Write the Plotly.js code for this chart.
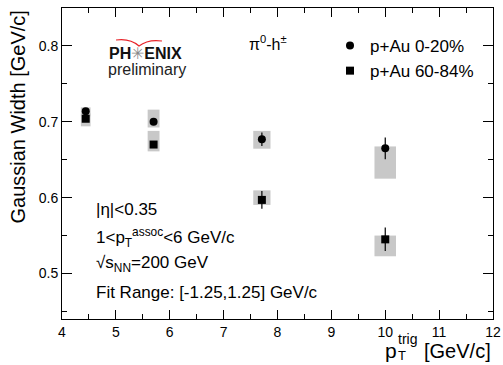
<!DOCTYPE html>
<html>
<head>
<meta charset="utf-8">
<script src="https://cdn.plot.ly/plotly-3.0.1.min.js"></script>
<style>html,body{margin:0;padding:0;background:#fff;}#chart{width:503px;height:365px;}</style>
</head>
<body>
<div id="chart"></div>
<script>
// ---- data ----
const ptTrig = [4.44, 5.70, 7.71, 10.0];
const central = [0.714, 0.700, 0.677, 0.665];          // p+Au 0-20%
const centralStat = [0.003, 0.003, 0.0088, 0.0143];
const centralSysLow = [0.707, 0.6925, 0.6645, 0.625];
const centralSysHigh = [0.719, 0.716, 0.688, 0.6675];
const periph = [0.704, 0.670, 0.597, 0.545];           // p+Au 60-84%
const periphStat = [0.003, 0.003, 0.0116, 0.0155];
const periphSysLow = [0.694, 0.661, 0.5904, 0.5227];
const periphSysHigh = [0.711, 0.688, 0.6096, 0.550];
const seriesNames = ["p+Au 0-20%", "p+Au 60-84%"];
const yTicks = [0.5, 0.6, 0.7, 0.8];
const xTicks = [4, 5, 6, 7, 8, 9, 10, 11, 12];

// ---- style ----
const boxHalfWidth = [0.09, 0.11, 0.16, 0.2];
const FONT = "Liberation Sans, Arial, sans-serif";
const W = 503, H = 365, L = 62, R = 10, T = 8, B = 46;
const PW = W - L - R, PH = H - T - B;
const px = x => (x - L) / PW;
const py = y => (H - B - y) / PH;

function sysTrace(lo, hi) {
  return {
    type: 'bar', x: ptTrig, base: lo, y: hi.map((h, i) => h - lo[i]),
    width: boxHalfWidth.map(w => 2 * w),
    marker: {color: '#c8c8c8', line: {width: 0}},
    showlegend: false, hoverinfo: 'skip'
  };
}
function ptTrace(y, err, name, symbol) {
  return {
    type: 'scatter', mode: 'markers', x: ptTrig, y: y, name: name,
    marker: {symbol: symbol, size: 8, color: '#000'},
    error_y: {type: 'data', array: err, visible: true, color: '#000', thickness: 1.2, width: 0}
  };
}

const data = [
  sysTrace(centralSysLow, centralSysHigh),
  sysTrace(periphSysLow, periphSysHigh),
  ptTrace(central, centralStat, seriesNames[0], 'circle'),
  ptTrace(periph, periphStat, seriesNames[1], 'square')
];

const axisCommon = {
  showline: true, linecolor: '#000', linewidth: 1, mirror: 'ticks',
  ticks: 'inside', tickcolor: '#000', tickwidth: 1,
  showgrid: false, zeroline: false,
  tickfont: {family: FONT, size: 14, color: '#000'}
};

function ann(text, x, y, size, extra) {
  return Object.assign({text: text, xref: 'paper', yref: 'paper', x: px(x), y: py(y),
    xanchor: 'left', yanchor: 'middle', showarrow: false,
    font: {family: FONT, size: size, color: '#000'}}, extra || {});
}

const layout = {
  width: W, height: H,
  margin: {l: L, r: R, t: T, b: B},
  paper_bgcolor: '#fff', plot_bgcolor: '#fff',
  barmode: 'overlay',
  font: {family: FONT, color: '#000'},
  xaxis: Object.assign({}, axisCommon, {
    range: [4, 12], tickvals: xTicks, ticktext: xTicks.map(String), ticklen: 9,
    minor: {ticks: 'inside', ticklen: 5, dtick: 0.5, tickcolor: '#000', showgrid: false}
  }),
  yaxis: Object.assign({}, axisCommon, {
    range: [0.44, 0.85], tickvals: yTicks, ticktext: yTicks.map(v => v.toFixed(1)), ticklen: 10,
    minor: {ticks: 'inside', ticklen: 5, dtick: 0.05, tick0: 0.45, tickcolor: '#000', showgrid: false}
  }),
  showlegend: true,
  legend: {
    x: px(330), y: py(28), xanchor: 'left', yanchor: 'top',
    bgcolor: 'rgba(0,0,0,0)', borderwidth: 0,
    font: {family: FONT, size: 17, color: '#000'},
    itemwidth: 30, tracegroupgap: 6, traceorder: 'grouped'
  },
  annotations: [
    ann('Gaussian Width [GeV/c]', 18, 9, 20, {textangle: -90, xanchor: 'center', yanchor: 'top'}),
    ann('p', 383, 350, 21),
    ann('trig', 396, 339, 14),
    ann('T', 396, 365, 13, {yanchor: 'bottom'}),
    ann('[GeV/c]', 493, 351, 20, {xanchor: 'right'}),
    ann('π<sup>0</sup>-h<sup>±</sup>', 247, 43, 16),
    ann('<b>PH</b><span style="color:#888">✳</span><b>ENIX</b>', 107, 54, 16, {font: {family: FONT, size: 16, color: '#111'}}),
    ann('preliminary', 106, 69, 16, {font: {family: FONT, size: 16, color: '#222'}}),
    ann('|η|&lt;0.35', 94, 209, 17),
    ann('1&lt;p<sub>T</sub><sup>assoc</sup>&lt;6 GeV/c', 94, 237, 17),
    ann('√s<sub>NN</sub>=200 GeV', 94, 264, 17),
    ann('Fit Range: [-1.25,1.25] GeV/c', 94, 292, 17)
  ],
  shapes: [
    {type: 'path', xref: 'paper', yref: 'paper',
     path: 'M ' + px(116) + ',' + py(40) + ' Q ' + px(130) + ',' + py(38) + ' ' + px(139) + ',' + py(46) +
           ' Q ' + px(148) + ',' + py(39) + ' ' + px(162) + ',' + py(41),
     line: {color: '#e8252b', width: 1.2}}
  ]
};

Plotly.newPlot('chart', data, layout, {staticPlot: true, displayModeBar: false});
</script>
</body>
</html>
